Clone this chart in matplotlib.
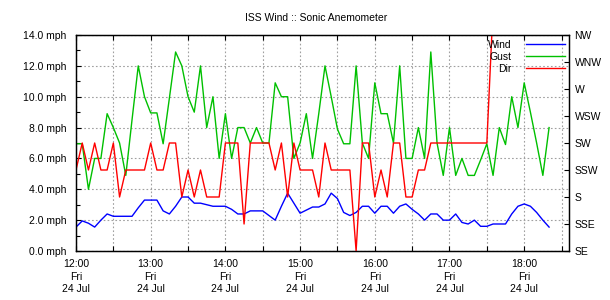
import matplotlib
matplotlib.use("Agg")
import matplotlib.pyplot as plt
import matplotlib.dates as mdates
import pandas as pd
from matplotlib.ticker import MultipleLocator, FixedLocator, FuncFormatter

plt.rcParams['font.family'] = ['Liberation Sans', 'DejaVu Sans']

start_time = "2020-07-24 12:00"
wind = [1.55, 1.95, 1.8, 1.55, 2.0, 2.4, 2.25, 2.25, 2.25, 2.25, 2.8, 3.3,
        3.3, 3.3, 2.6, 2.4, 2.9, 3.5, 3.5, 3.1, 3.1, 3.0, 2.9, 2.9,
        2.9, 2.7, 2.4, 2.4, 2.6, 2.6, 2.6, 2.3, 2.0, 2.9, 3.75, 3.1,
        2.45, 2.65, 2.85, 2.85, 3.05, 3.75, 3.4, 2.5, 2.3, 2.5, 2.9, 2.9,
        2.45, 2.9, 2.9, 2.45, 2.9, 3.05, 2.7, 2.4, 2.0, 2.4, 2.4, 2.0,
        2.0, 2.4, 1.85, 1.75, 2.0, 1.6, 1.6, 1.75, 1.75, 1.75, 2.4, 2.9,
        3.05, 2.9, 2.5, 2.0, 1.55]
gust = [6.95, 6.95, 4.0, 6.0, 6.0, 8.9, 8.0, 7.0, 4.9, 8.5, 12.0, 10.0,
        8.95, 8.95, 6.95, 9.9, 12.9, 12.0, 10.0, 9.0, 12.0, 8.0, 10.0, 6.0,
        8.9, 6.0, 8.0, 8.0, 7.0, 8.0, 7.0, 7.0, 10.9, 10.0, 10.0, 6.0,
        7.0, 8.9, 6.0, 8.9, 12.0, 10.0, 7.9, 6.95, 6.95, 12.0, 7.0, 6.0,
        10.9, 8.9, 8.9, 7.0, 12.0, 6.0, 6.0, 8.0, 6.0, 12.9, 7.0, 4.9,
        8.0, 4.9, 6.0, 4.9, 4.9, 5.9, 6.95, 4.9, 8.0, 6.9, 10.0, 8.0,
        10.9, 9.0, 7.0, 4.9, 8.0]
direction = [202.5, 225, 202.5, 225, 202.5, 202.5, 225, 180, 202.5, 202.5, 202.5, 202.5,
             225, 202.5, 202.5, 225, 225, 180, 202.5, 180, 202.5, 180, 180, 180,
             225, 225, 225, 157.5, 225, 225, 225, 225, 202.5, 225, 180, 225,
             202.5, 202.5, 202.5, 180, 225, 202.5, 202.5, 202.5, 202.5, 135, 225, 225,
             180, 202.5, 180, 225, 225, 180, 180, 202.5, 202.5, 225, 225, 225,
             225, 225, 225, 225, 225, 225, 225, 337.5, 337.5, 337.5, 337.5, 337.5,
             337.5, 337.5, 337.5, 337.5, 337.5]
dir_labels = ["SE", "SSE", "S", "SSW", "SW", "WSW", "W", "WNW", "NW"]
dir_ticks = [135, 157.5, 180, 202.5, 225, 247.5, 270, 292.5, 315]

times = pd.date_range(start_time, periods=len(wind), freq="5min")

FS = 7.5
fig = plt.figure(figsize=(6.1, 3.0), dpi=100)
L, R, T, B = 76, 569, 35, 251
ax = fig.add_axes([L/610, 1-B/300, (R-L)/610, (B-T)/300])
ax2 = ax.twinx()

h1, = ax.plot(times, wind, color='#0000ff', lw=1.0, label='Wind')
h2, = ax.plot(times, gust, color='#00c000', lw=1.0, label='Gust')
h3, = ax2.plot(times, direction, color='#ff0000', lw=1.0, label='Dir')

ax.set_ylim(0, 14)
ax2.set_ylim(135, 315)
ax.set_xlim(pd.Timestamp("2020-07-24 12:00"), pd.Timestamp("2020-07-24 18:36"))

ax.yaxis.set_major_locator(MultipleLocator(2))
ax.yaxis.set_minor_locator(MultipleLocator(1))
ax.yaxis.set_major_formatter(FuncFormatter(lambda v, p: f"{v:.1f} mph"))
ax2.yaxis.set_major_locator(FixedLocator(dir_ticks))
ax2.set_yticklabels(dir_labels)

ax.xaxis.set_major_locator(mdates.HourLocator())
ax.xaxis.set_minor_locator(mdates.MinuteLocator(byminute=[30]))
ax.xaxis.set_major_formatter(mdates.DateFormatter("%H:%M\n%a\n%d %b"))

for lab in ax.get_xticklabels():
    lab.set_linespacing(1.3)

ax.grid(True, which='major', axis='y', color='#a0a0a0', lw=0.8, ls=(0, (1.5, 2)))
ax.grid(True, which='both', axis='x', color='#a0a0a0', lw=0.8, ls=(0, (1.5, 2)))

ax.tick_params(axis='y', which='major', direction='in', length=3.5, width=0.8, labelsize=FS, pad=7)
ax.tick_params(axis='y', which='minor', direction='in', length=3, width=0.8)
ax.tick_params(axis='x', which='both', direction='in', length=3.5, width=0.8, top=True, labelsize=FS, pad=6)
ax2.tick_params(axis='y', which='major', direction='in', length=3.5, width=0.8, labelsize=FS, pad=4)
for a in (ax, ax2):
    for s in a.spines.values():
        s.set_linewidth(0.9)
        s.set_color('black')

leg = ax2.legend(handles=[h1, h2, h3], loc='upper right', markerfirst=False, frameon=False,
                 fontsize=FS, handlelength=3.7, handletextpad=1.4, labelspacing=0.2,
                 borderpad=0, borderaxespad=0, alignment='right',
                 bbox_to_anchor=(565/610, 1-39.5/300), bbox_transform=fig.transFigure)

fig.text(316/610, 1-18/300, "ISS Wind :: Sonic Anemometer", ha='center', va='center', fontsize=FS)

fig.savefig("out.png", dpi=100)
